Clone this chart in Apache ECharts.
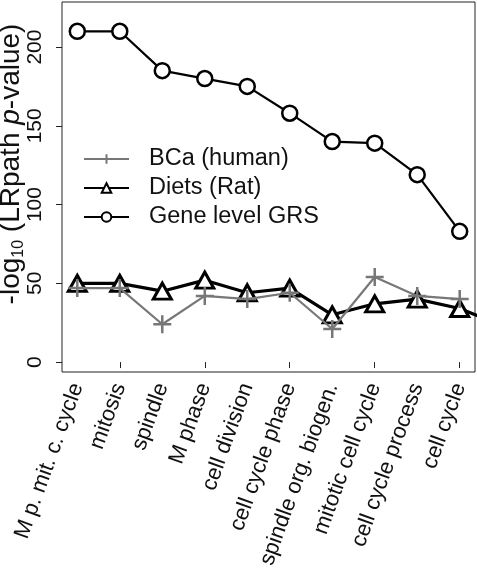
<!DOCTYPE html>
<html>
<head>
<meta charset="utf-8">
<script src="https://cdn.jsdelivr.net/npm/echarts@6/dist/echarts.min.js"></script>
<style>
html,body{margin:0;padding:0;background:#fff;}
#chart{width:477px;height:569px;}
</style>
</head>
<body>
<div id="chart"></div>
<script>
var categories = ['M p. mit. c. cycle','mitosis','spindle','M phase','cell division','cell cycle phase','spindle org. biogen.','mitotic cell cycle','cell cycle process','cell cycle'];
var bcaHuman = [47, 47, 24, 42, 40, 44, 21, 54, 42, 40];
var dietsRat = [50, 50, 45, 52, 44, 47, 30, 37, 40, 34, 23];
var geneGRS = [210, 210, 185, 180, 175, 158, 140, 139, 119, 83];
var yTicks = [0, 50, 100, 150, 200];
var xTickPositions = [2, 4, 6, 8, 10];

function pairs(arr){ return arr.map(function(v,i){ return [i+1, v]; }); }

var FONT = 'Liberation Sans, Arial, Helvetica, sans-serif';
var chart = echarts.init(document.getElementById('chart'), null, {renderer:'canvas'});
var plusPath = 'path://M5,0L5,10M0,5L10,5';

chart.setOption({
  backgroundColor: '#fff',
  animation: false,
  textStyle: {fontFamily: FONT},
  grid: {left: 62, right: 2, top: 2, bottom: 197, show: true, borderColor: '#222', borderWidth: 1, containLabel: false, outerBoundsMode: 'none'},
  legend: {
    orient: 'vertical', left: 83, top: 147, padding: 0,
    itemWidth: 45, itemHeight: 12, itemGap: 5,
    textStyle: {fontSize: 23.5, fontFamily: FONT, color: '#111', padding: [0,0,0,15], lineHeight: 23},
    data: ['BCa (human)', 'Diets (Rat)', 'Gene level GRS']
  },
  xAxis: {
    type: 'value', min: 0.64, max: 10.36,
    splitLine: {show: false},
    axisLine: {show: false},
    axisTick: {show: true, inside: false, length: 6, lineStyle: {color: '#222'}, customValues: xTickPositions},
    axisLabel: {
      customValues: categories.map(function(c,i){return i+1;}),
      rotate: 70, margin: 12, fontSize: 22, color: '#111', fontFamily: FONT,
      formatter: function(v){ return categories[Math.round(v)-1] || ''; }
    }
  },
  yAxis: {
    type: 'value', min: -6.3, max: 228.6,
    splitLine: {show: false},
    axisLine: {show: false},
    axisTick: {show: true, length: 6, lineStyle: {color: '#222'}, customValues: yTicks},
    axisLabel: {customValues: yTicks, rotate: 90, margin: 16, fontSize: 21, color: '#111', fontFamily: FONT},
    name: '{sp| }-log{sub|10} (LRpath {it|p}-value)',
    nameLocation: 'middle', nameRotate: 90, nameGap: 35, nameMoveOverlap: false,
    nameTextStyle: {
      fontSize: 28, color: '#111', fontFamily: FONT,
      rich: {
        sp: {width: 46, fontSize: 28},
        sub: {fontSize: 16, color: '#111', fontFamily: FONT, verticalAlign: 'bottom', lineHeight: 32},
        it: {fontSize: 28, color: '#111', fontFamily: FONT, fontStyle: 'italic'}
      }
    }
  },
  series: [
    {
      name: 'Gene level GRS', type: 'line', data: pairs(geneGRS), z: 3,
      symbol: 'circle', symbolSize: 15, showSymbol: true,
      lineStyle: {color: '#000', width: 2.2},
      itemStyle: {color: '#fff', borderColor: '#000', borderWidth: 2.5}
    },
    {
      name: 'Diets (Rat)', type: 'line', data: pairs(dietsRat), z: 4,
      symbol: 'triangle', symbolSize: [18, 16],
      lineStyle: {color: '#000', width: 3.2},
      itemStyle: {color: '#fff', borderColor: '#000', borderWidth: 3}
    },
    {
      name: 'BCa (human)', type: 'line', data: pairs(bcaHuman), z: 5,
      symbol: plusPath, symbolSize: 18,
      lineStyle: {color: '#777', width: 2.2},
      itemStyle: {color: 'none', borderColor: '#777', borderWidth: 2.5}
    }
  ]
});
</script>
</body>
</html>
